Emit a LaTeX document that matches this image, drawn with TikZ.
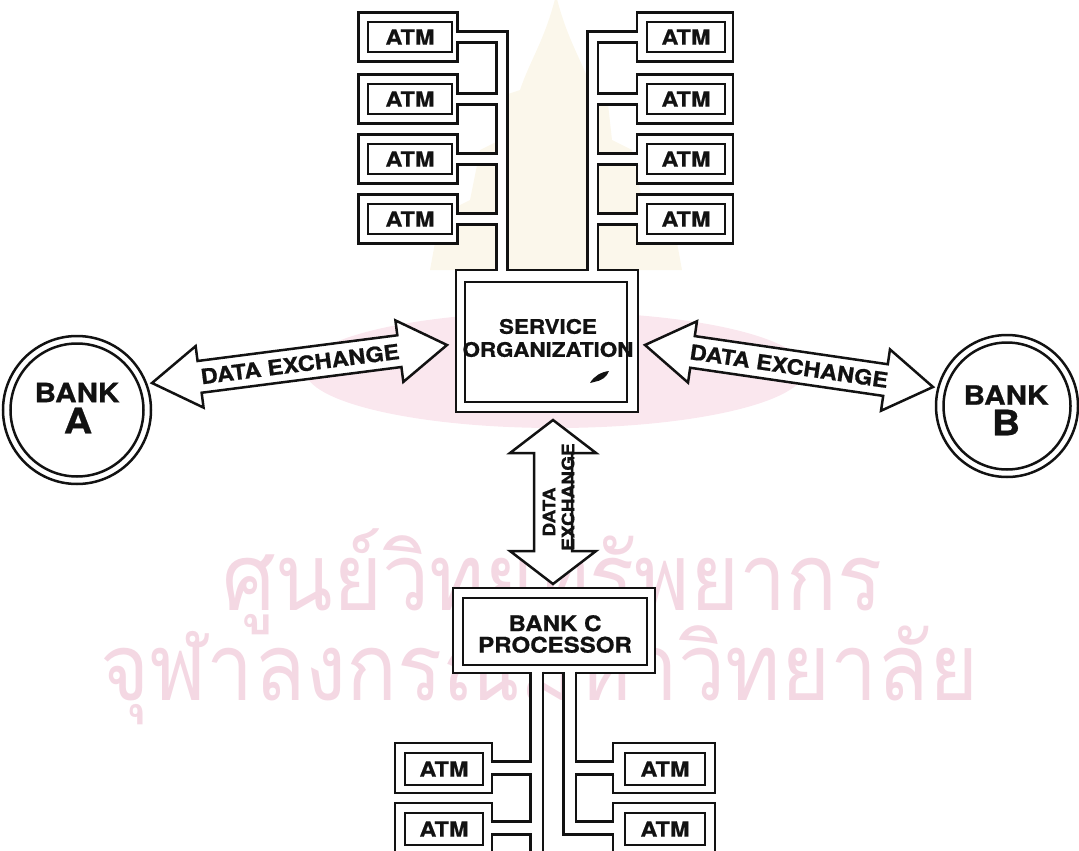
\documentclass[tikz,border=0pt]{standalone}
\usepackage{fontspec}
\usepackage{graphicx}
\usetikzlibrary{calc}
\newfontfamily\labelfont[FakeStretch=1.12, FakeBold=0.8]{TeX Gyre Heros}
\newfontfamily\thaifont[Script=Thai]{Loma}
\definecolor{ink}{RGB}{18,18,18}
\definecolor{wmpink}{RGB}{244,216,227}
\definecolor{wmrose}{RGB}{250,231,238}
\definecolor{wmcream}{RGB}{251,247,235}
\newcommand\lbl[2]{\labelfont\bfseries\fontsize{#1}{#2}\selectfont}
% double-headed block arrow between two points:
% #1 from, #2 to, #3 shaft half width, #4 head half width, #5 head length
\newcommand\blockarrow[5]{%
  \draw[arrowshape] let \p1=(#1), \p2=(#2),
      \n1={atan2(\y2-\y1,\x2-\x1)}, \n2={veclen(\x2-\x1,\y2-\y1)} in
    {[shift={(\p1)}, rotate=\n1]
      (0,0) -- (#5,#4) -- (#5,#3) -- (\n2-#5,#3) -- (\n2-#5,#4) -- (\n2,0)
      -- (\n2-#5,-#4) -- (\n2-#5,-#3) -- (#5,-#3) -- (#5,-#4) -- cycle};%
}
\tikzset{
  outerbox/.style={draw=ink, line width=2.6pt, fill=white, inner sep=0pt},
  inbox/.style={draw=ink, line width=2.4pt, inner sep=0pt, text=ink},
  atmtext/.style={font=\lbl{21}{21}},
  pipe/.style={draw=ink, line width=2.6pt, double=white, double distance=#1,
    line join=miter, shorten <=-2.6pt},
  arrowshape/.style={draw=ink, line width=2.5pt, fill=white, line join=miter},
  ringline/.style={circle, draw=ink, line width=2.5pt, inner sep=0pt},
  wm/.style={text=wmpink, inner sep=0pt, font=\thaifont\fontsize{88}{88}\selectfont},
  caption/.style={text=ink, inner sep=0pt, align=center},
}
\begin{document}
\begin{tikzpicture}[x=1pt, y=-1pt]
\useasboundingbox (0,0) rectangle (1079,851);
\clip (0,0) rectangle (1079,851);

% faint emblem and lettering in the background
\fill[wmcream] (556,-5) .. controls (545,40) and (530,60) .. (520,90)
  -- (505,95) -- (500,140) -- (480,150) -- (470,200) -- (440,215) -- (430,270)
  -- (682,270) -- (672,215) -- (642,200) -- (632,150) -- (612,140) -- (607,95)
  -- (592,90) .. controls (582,60) and (567,40) .. (556,-5) -- cycle;
\fill[wmrose] (555,370) ellipse [x radius=250, y radius=58];
\node[wm, anchor=base west] (wm1) at (222,610) {\scalebox{0.955}[1.06]{ศูนย์วิทยทรัพยากร}};
\node[wm, anchor=base west] (wm2) at (100,700) {\scalebox{0.955}[1.06]{จุฬาลงกรณ์มหาวิทยาลัย}};

% x positions of the cable buses
\coordinate (busL) at (502,0);
\coordinate (busR) at (592.5,0);
\coordinate (busBL) at (536.5,0);
\coordinate (busBR) at (569.5,0);
\coordinate (busBLend) at (536.5,880);

% outer frames
\node[outerbox, minimum width=182pt, minimum height=142pt] (svc) at (547,341) {};
\node[outerbox, minimum width=202pt, minimum height=85pt] (bc) at (554,630.5) {};
\foreach \i/\y in {1/37,2/99,3/159,4/219}{
  \node[outerbox, minimum width=99pt, minimum height=49pt] (aL\i) at (408,\y) {};
  \node[outerbox, minimum width=96pt, minimum height=49pt] (aR\i) at (685,\y) {};
}
\foreach \i/\y in {1/768,2/828}{
  \node[outerbox, minimum width=97pt, minimum height=50pt] (bL\i) at (443.5,\y) {};
  \node[outerbox, minimum width=102pt, minimum height=50pt] (bR\i) at (664,\y) {};
}

% main buses
\draw[pipe=8pt, shorten >=-2.6pt] (aL1.east) -| (svc.north -| busL);
\draw[pipe=8pt, shorten >=-2.6pt] (aR1.west) -| (svc.north -| busR);
\draw[pipe=10pt] (bc.south -| busBL) -- (busBLend);
\draw[pipe=10pt, shorten >=-2.6pt] (bc.south -| busBR) |- (bR2.west);
% branch lines into the buses
\foreach \i in {2,3,4}{
  \draw[pipe=8pt, shorten >=4pt] (aL\i.east) -- (aL\i.east -| busL);
  \draw[pipe=8pt, shorten >=4pt] (aR\i.west) -- (aR\i.west -| busR);
}
\foreach \i in {1,2}{
  \draw[pipe=10pt, shorten >=5pt] (bL\i.east) -- (bL\i.east -| busBL);
}
\draw[pipe=10pt, shorten >=5pt] (bR1.west) -- (bR1.west -| busBR);

% inner boxes with labels
\foreach \i/\y in {1/37,2/99,3/159,4/219}{
  \node[inbox, atmtext, minimum width=84pt, minimum height=30pt] (tL\i) at (410,\y) {ATM};
  \node[inbox, atmtext, minimum width=78pt, minimum height=30pt] (tR\i) at (686,\y) {ATM};
}
\foreach \i/\y in {1/769,2/829}{
  \node[inbox, atmtext, minimum width=78pt, minimum height=32pt] (tBL\i) at (444,\y) {ATM};
  \node[inbox, atmtext, minimum width=80pt, minimum height=32pt] (tBR\i) at (665,\y) {ATM};
}
\node[inbox, minimum width=162pt, minimum height=120pt] (svcin) at (546,342) {};
\node[caption, font=\lbl{20}{23}] (svct) at (548,338) {SERVICE\\ORGANIZATION};
\node[inbox, minimum width=184pt, minimum height=67pt] (bcin) at (555,631.5) {};
\node[caption, font=\lbl{21.5}{21.5}] (bct) at (555,634) {BANK C\\PROCESSOR};

% ink blot inside the service organization box
\fill[ink] (590,383) .. controls (594,376) and (601,372) .. (609,371)
  .. controls (607,377) and (601,381) .. (594,382) -- cycle;

% banks
\node[ringline, fill=white, minimum size=148pt] (bankA) at (77,410) {};
\node[ringline, minimum size=133pt] (bankAin) at (77,410) {};
\node[caption, font=\lbl{26.5}{26.5}] (bankAt) at (77,392.5) {BANK};
\node[caption, font=\lbl{35}{35}] (bankAl) at (78,420.5) {A};
\node[ringline, fill=white, minimum size=142pt] (bankB) at (1007,406) {};
\node[ringline, minimum size=127pt] (bankBin) at (1007,406) {};
\node[caption, font=\lbl{26.5}{26.5}] (bankBt) at (1006,395) {BANK};
\node[caption, font=\lbl{35}{35}] (bankBl) at (1006,422.5) {B};

% data exchange arrows
\coordinate (xAl) at (152,383);
\coordinate (xAr) at (447,345);
\coordinate (xBl) at (645,345);
\coordinate (xBr) at (933,387);
\coordinate (xCt) at (553,420);
\coordinate (xCb) at (553,584);
\blockarrow{xAl}{xAr}{16}{31}{48}
\blockarrow{xBl}{xBr}{16}{31}{48}
\blockarrow{xCt}{xCb}{19}{43}{33}
\node[caption, font=\lbl{21}{21}, rotate=7.34] (xAtext) at (300,364) {DATA EXCHANGE};
\node[caption, font=\lbl{21}{21}, rotate=-8.3] (xBtext) at (789,366) {DATA EXCHANGE};
\node[caption, font=\lbl{17}{17}, rotate=90] (xCtext1) at (549,512) {DATA};
\node[caption, font=\lbl{17}{17}, rotate=90] (xCtext2) at (568,497) {EXCHANGE};
\end{tikzpicture}
\end{document}
